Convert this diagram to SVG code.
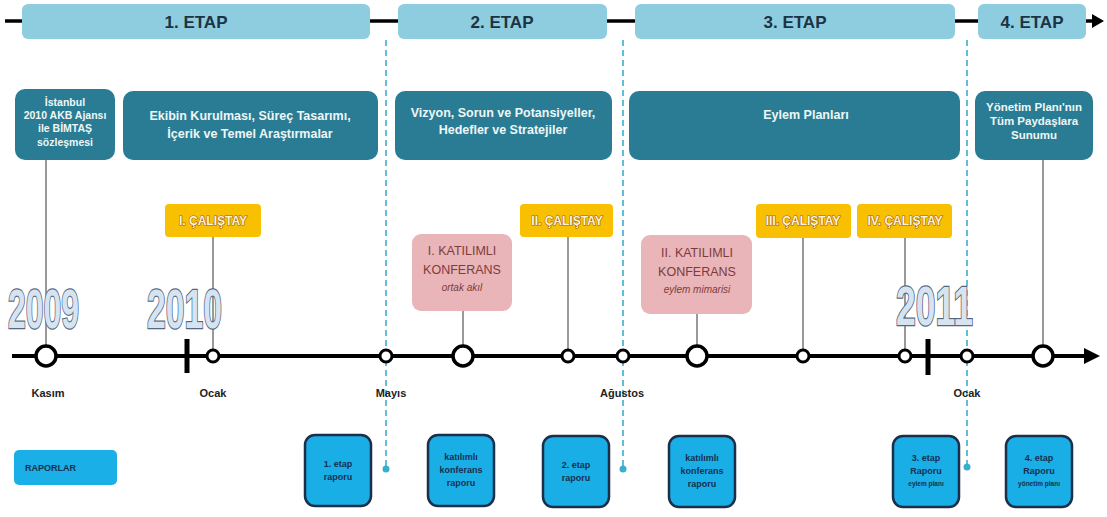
<svg xmlns="http://www.w3.org/2000/svg" width="1107" height="517" viewBox="0 0 1107 517">
<defs>
<style>
.etap{fill:#8ecde0;}
.etapt{font-family:"Liberation Sans",Arial,sans-serif;font-weight:bold;font-size:17px;fill:#1c3344;text-anchor:middle;}
.teal{fill:#2a7c94;}
.tealt{font-family:"Liberation Sans",Arial,sans-serif;font-weight:bold;fill:#eef7f7;text-anchor:middle;}
.yel{fill:#f8c000;}
.yelt{font-family:"Liberation Sans",Arial,sans-serif;font-weight:bold;font-size:12px;fill:#fff4d6;stroke:#a3621a;stroke-width:1.2;paint-order:stroke;text-anchor:middle;}
.pink{fill:#e9b5b8;}
.pinkt{font-family:"Liberation Sans",Arial,sans-serif;font-size:12.5px;fill:#7e3b3b;text-anchor:middle;}
.conn{stroke:#555;stroke-width:1.2;fill:none;}
.dash{stroke:#3aaecf;stroke-width:1.6;stroke-dasharray:6 4;fill:none;}
.big{fill:#fff;stroke:#000;stroke-width:3.5;}
.sm{fill:#fff;stroke:#000;stroke-width:3;}
.month{font-family:"Liberation Sans",Arial,sans-serif;font-weight:bold;font-size:11px;fill:#222;text-anchor:middle;}
.year{font-family:"Liberation Sans",Arial,sans-serif;font-weight:bold;font-size:56px;fill:#d6e4f2;stroke:#56687f;stroke-width:2.4;paint-order:stroke;}
.rep{fill:#19aee6;stroke:#1b2f4a;stroke-width:2.5;}
.rept{font-family:"Liberation Sans",Arial,sans-serif;font-weight:bold;font-size:9px;fill:#173050;text-anchor:middle;}
.raplab{font-family:"Liberation Sans",Arial,sans-serif;font-weight:bold;font-size:9px;fill:#173050;text-anchor:start;}
.repts{font-family:"Liberation Sans",Arial,sans-serif;font-weight:bold;font-size:6.5px;fill:#173050;text-anchor:middle;}
</style>
</defs>
<rect width="1107" height="517" fill="#fff"/>

<g id="connectors">
<line x1="5" y1="21" x2="1094" y2="21" stroke="#000" stroke-width="3.5"/>
<polygon points="1092,14 1104,21 1092,28" fill="#000"/>
<line x1="12" y1="356" x2="1088" y2="356" stroke="#000" stroke-width="4"/>
<polygon points="1084,348 1100,356 1084,364" fill="#000"/>
<line x1="187" y1="339" x2="187" y2="373" stroke="#000" stroke-width="5"/>
<line x1="928" y1="339" x2="928" y2="375" stroke="#000" stroke-width="5"/>
<line class="dash" x1="386" y1="40" x2="386" y2="466"/>
<circle cx="386" cy="469" r="3.5" fill="#3aaecf"/>
<line class="dash" x1="623" y1="40" x2="623" y2="466"/>
<circle cx="623" cy="469" r="3.5" fill="#3aaecf"/>
<line class="dash" x1="967" y1="40" x2="967" y2="464"/>
<circle cx="967" cy="467" r="3.5" fill="#3aaecf"/>
<line class="conn" x1="46" y1="160" x2="46" y2="346"/>
<line class="conn" x1="213" y1="237" x2="213" y2="350"/>
<line class="conn" x1="463" y1="311" x2="463" y2="346"/>
<line class="conn" x1="568" y1="237" x2="568" y2="350"/>
<line class="conn" x1="697" y1="314" x2="697" y2="346"/>
<line class="conn" x1="803" y1="238" x2="803" y2="350"/>
<line class="conn" x1="905" y1="238" x2="905" y2="350"/>
<line class="conn" x1="1043" y1="160" x2="1043" y2="346"/>
</g>

<g id="etap1"><rect class="etap" x="22" y="4" width="348" height="35" rx="6"/><text class="etapt" x="196" y="28">1. ETAP</text></g>
<g id="etap2"><rect class="etap" x="398" y="4" width="209" height="35" rx="6"/><text class="etapt" x="502" y="28">2. ETAP</text></g>
<g id="etap3"><rect class="etap" x="635" y="4" width="320" height="35" rx="6"/><text class="etapt" x="795" y="28">3. ETAP</text></g>
<g id="etap4"><rect class="etap" x="978" y="4" width="108" height="35" rx="6"/><text class="etapt" x="1032" y="28">4. ETAP</text></g>

<g id="box-sozlesme"><rect class="teal" x="15" y="89" width="100" height="71" rx="10"/>
<text class="tealt" font-size="10.5"><tspan x="65" y="106">İstanbul</tspan><tspan x="65" y="119">2010 AKB Ajansı</tspan><tspan x="65" y="132">ile BİMTAŞ</tspan><tspan x="65" y="146">sözleşmesi</tspan></text></g>
<g id="box-ekip"><rect class="teal" x="123" y="91" width="255" height="69" rx="10"/>
<text class="tealt" font-size="12.5"><tspan x="250" y="120">Ekibin  Kurulması, Süreç Tasarımı,</tspan><tspan x="250" y="138">İçerik ve Temel Araştırmalar</tspan></text></g>
<g id="box-vizyon"><rect class="teal" x="395" y="91" width="217" height="69" rx="10"/>
<text class="tealt" font-size="12.5"><tspan x="503" y="117">Vizyon, Sorun ve Potansiyeller,</tspan><tspan x="503" y="134">Hedefler ve Stratejiler</tspan></text></g>
<g id="box-eylem"><rect class="teal" x="629" y="91" width="331" height="69" rx="10"/>
<text class="tealt" font-size="12.5" x="806" y="119">Eylem Planları</text></g>
<g id="box-yonetim"><rect class="teal" x="975" y="91" width="118" height="69" rx="10"/>
<text class="tealt" font-size="11.5"><tspan x="1034" y="111">Yönetim Planı'nın</tspan><tspan x="1034" y="125">Tüm Paydaşlara</tspan><tspan x="1034" y="139">Sunumu</tspan></text></g>

<g id="calistay1"><rect class="yel" x="165" y="204" width="96" height="33" rx="4"/><text class="yelt" x="213" y="225">I. ÇALIŞTAY</text></g>
<g id="calistay2"><rect class="yel" x="520" y="204" width="93" height="33" rx="4"/><text class="yelt" x="567" y="225">II. ÇALIŞTAY</text></g>
<g id="calistay3"><rect class="yel" x="756" y="204" width="95" height="34" rx="4"/><text class="yelt" x="803" y="225">III. ÇALIŞTAY</text></g>
<g id="calistay4"><rect class="yel" x="857" y="204" width="95" height="34" rx="4"/><text class="yelt" x="905" y="225">IV. ÇALIŞTAY</text></g>

<g id="konferans1"><rect class="pink" x="412" y="234" width="100" height="77" rx="9"/>
<text class="pinkt"><tspan x="462" y="255">I. KATILIMLI</tspan><tspan x="462" y="274">KONFERANS</tspan><tspan x="462" y="291" font-style="italic" font-size="10">ortak akıl</tspan></text></g>
<g id="konferans2"><rect class="pink" x="641" y="235" width="111" height="79" rx="9"/>
<text class="pinkt"><tspan x="697" y="257">II. KATILIMLI</tspan><tspan x="697" y="276">KONFERANS</tspan><tspan x="697" y="293" font-style="italic" font-size="10">eylem mimarisi</tspan></text></g>

<g id="year2009"><text class="year" x="8" y="328" textLength="71" lengthAdjust="spacingAndGlyphs">2009</text></g>
<g id="year2010"><text class="year" x="147" y="328" textLength="75" lengthAdjust="spacingAndGlyphs">2010</text></g>
<g id="year2011"><text class="year" x="896" y="325" textLength="77" lengthAdjust="spacingAndGlyphs">2011</text></g>

<g id="points">
<circle class="big" cx="46" cy="356" r="10"/>
<circle class="sm" cx="213" cy="356" r="6"/>
<circle class="sm" cx="386" cy="356" r="6"/>
<circle class="big" cx="463" cy="356" r="10"/>
<circle class="sm" cx="568" cy="356" r="6"/>
<circle class="sm" cx="623" cy="356" r="6"/>
<circle class="big" cx="697" cy="356" r="10"/>
<circle class="sm" cx="803" cy="356" r="6"/>
<circle class="sm" cx="905" cy="356" r="6"/>
<circle class="sm" cx="967" cy="356" r="6"/>
<circle class="big" cx="1043" cy="356" r="10"/>
</g>

<g id="months">
<text class="month" x="48" y="397">Kasım</text>
<text class="month" x="213" y="397">Ocak</text>
<text class="month" x="391" y="397">Mayıs</text>
<text class="month" x="622" y="397">Ağustos</text>
<text class="month" x="967" y="397">Ocak</text>
</g>

<g id="raporlar"><rect x="14" y="450" width="103" height="35" rx="5" fill="#1aafe6"/><text class="raplab" x="25" y="471">RAPORLAR</text></g>
<g id="rapor1"><rect class="rep" x="305" y="435" width="66" height="71" rx="10"/><text class="rept"><tspan x="338" y="467">1. etap</tspan><tspan x="338" y="480">raporu</tspan></text></g>
<g id="rapor2"><rect class="rep" x="428" y="435" width="66" height="71" rx="10"/><text class="rept"><tspan x="461" y="460">katılımlı</tspan><tspan x="461" y="473">konferans</tspan><tspan x="461" y="486">raporu</tspan></text></g>
<g id="rapor3"><rect class="rep" x="543" y="436" width="66" height="71" rx="10"/><text class="rept"><tspan x="576" y="468">2. etap</tspan><tspan x="576" y="481">raporu</tspan></text></g>
<g id="rapor4"><rect class="rep" x="669" y="436" width="66" height="71" rx="10"/><text class="rept"><tspan x="702" y="461">katılımlı</tspan><tspan x="702" y="474">konferans</tspan><tspan x="702" y="487">raporu</tspan></text></g>
<g id="rapor5"><rect class="rep" x="893" y="436" width="66" height="71" rx="10"/><text class="rept"><tspan x="926" y="461">3. etap</tspan><tspan x="926" y="474">Raporu</tspan></text><text class="repts" x="926" y="486">eylem planı</text></g>
<g id="rapor6"><rect class="rep" x="1006" y="436" width="66" height="71" rx="10"/><text class="rept"><tspan x="1039" y="461">4. etap</tspan><tspan x="1039" y="474">Raporu</tspan></text><text class="repts" x="1039" y="486">yönetim planı</text></g>
</svg>
